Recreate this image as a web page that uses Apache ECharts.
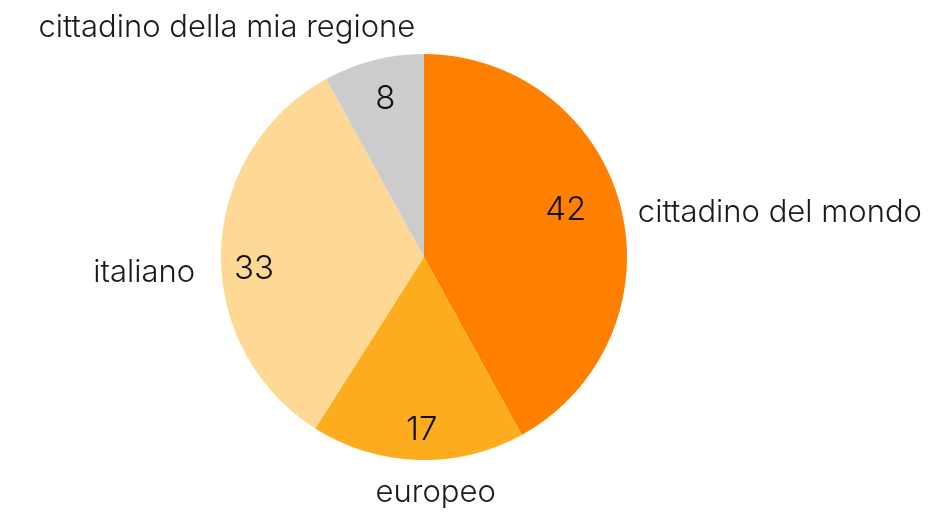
<!DOCTYPE html>
<html>
<head>
<meta charset="utf-8">
<script src="https://cdn.jsdelivr.net/npm/echarts@6/dist/echarts.min.js"></script>
<style>
html,body{margin:0;padding:0;background:#fff;}
#chart{width:949px;height:512px;}
</style>
</head>
<body>
<div id="chart"></div>
<script>
const categories = ['cittadino del mondo', 'europeo', 'italiano', 'cittadino della mia regione'];
const values = [42, 17, 33, 8];
const colors = ['#FF7F00', '#FDAC1D', '#FDD995', '#CCCCCC'];

// label nudges (px) relative to ECharts' default label positions
const outerNudge = [[-12, 12], [84, 8], [4, 23], [53, -8]];
const innerNudge = [[-21, -5], [3, 5], [-2, 17], [3, 5]];

const FONT = 'Inter';
const center = [424, 257];

const chart = echarts.init(document.getElementById('chart'), null, {renderer: 'canvas'});
chart.setOption({
  animation: false,
  backgroundColor: '#ffffff',
  color: colors,
  series: [
    {
      type: 'pie',
      center: center,
      radius: [0, 203],
      startAngle: 90,
      clockwise: true,
      avoidLabelOverlap: false,
      silent: true,
      itemStyle: {borderWidth: 0},
      emphasis: {disabled: true},
      label: {
        show: true,
        position: 'outside',
        formatter: '{b}',
        fontFamily: FONT,
        fontWeight: 300,
        fontSize: 31,
        color: '#1a1a1a',
        distanceToLabelLine: 5,
        overflow: 'none'
      },
      labelLine: {show: false, length: 25, length2: 0},
      labelLayout: function (p) {
        const n = outerNudge[p.dataIndex];
        return {dx: n[0], dy: n[1]};
      },
      data: categories.map((c, i) => ({name: c, value: values[i]}))
    },
    {
      type: 'pie',
      center: center,
      radius: [127, 203],
      startAngle: 90,
      clockwise: true,
      avoidLabelOverlap: false,
      silent: true,
      itemStyle: {color: 'rgba(0,0,0,0)', borderWidth: 0},
      emphasis: {disabled: true},
      label: {
        show: true,
        position: 'inside',
        formatter: '{c}',
        fontFamily: FONT,
        fontWeight: 300,
        fontSize: 33,
        color: '#111111'
      },
      labelLine: {show: false},
      labelLayout: function (p) {
        const n = innerNudge[p.dataIndex];
        return {dx: n[0], dy: n[1]};
      },
      data: categories.map((c, i) => ({name: c, value: values[i]}))
    }
  ]
});
</script>
</body>
</html>
